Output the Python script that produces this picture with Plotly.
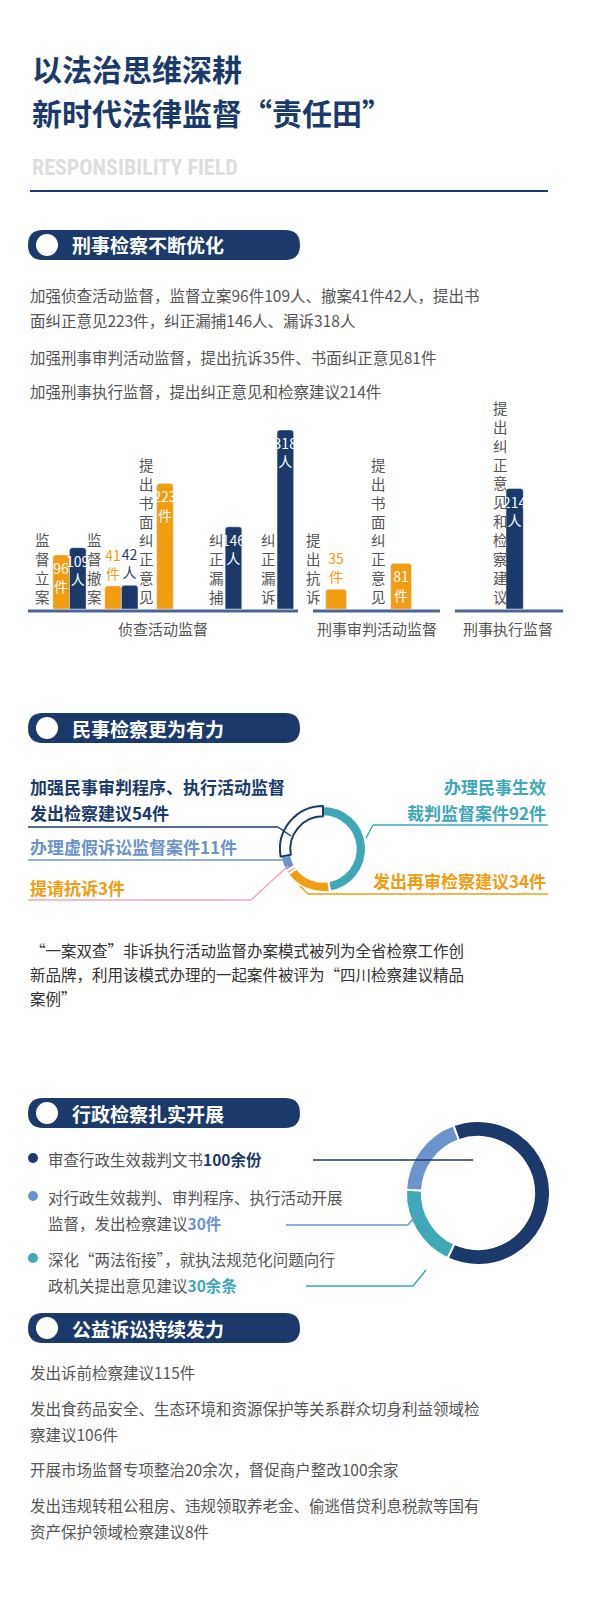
import plotly.graph_objects as go

W, H = 600, 1623
NAVY = "#1b3a6b"
ORANGE = "#f29c11"
TEAL = "#3ea7b8"
LBLUE = "#6b93cc"
PINK = "#f3a6b8"
GRAY = "#555555"
FONT = "Noto Sans CJK SC"

# criminal bar data
g1_cats = ["监督立案", "监督撤案", "提出书面纠正意见", "纠正漏捕", "纠正漏诉"]
g1_jian = [96, 41, 223, None, None]
g1_ren = [109, 42, None, 146, 318]
g2_cats = ["提出抗诉", "提出书面纠正意见"]
g2_jian = [35, 81]
g3_cats = ["提出纠正意见和检察建议"]
g3_jian = [214]
group_names = ["侦查活动监督", "刑事审判活动监督", "刑事执行监督"]

# civil donut
civil_labels = ["办理民事生效裁判监督案件", "发出再审检察建议", "提请抗诉", "办理虚假诉讼监督案件", "发出检察建议"]
civil_values = [92, 34, 3, 11, 54]

# administrative donut
admin_labels = ["审查行政生效裁判文书", "深化“两法衔接”", "对行政生效裁判"]
admin_values = [100, 30, 30]


def py(p):
    return 1 - p / H


def px_(p):
    return p / W


fig = go.Figure()
ann = []
shapes = []


def text(x, y, s, size=16, color=GRAY, anchor="left", bold=False):
    if bold:
        s = "<b>" + s + "</b>"
    ann.append(dict(x=px_(x), y=py(y), xref="paper", yref="paper", text=s, showarrow=False,
                    xanchor=anchor, yanchor="middle", font=dict(size=size, color=color, family=FONT)))


def line(x0, y0, x1, y1, color=NAVY, w=2):
    shapes.append(dict(type="line", xref="paper", yref="paper", x0=px_(x0), y0=py(y0), x1=px_(x1), y1=py(y1),
                       line=dict(color=color, width=w)))


def pill(y, label):
    x0, x1, h = 20, 292, 30
    r = h / 2
    path = (f"M {px_(x0 + r)} {py(y - r)} L {px_(x1 - r)} {py(y - r)} "
            f"Q {px_(x1)} {py(y - r)} {px_(x1)} {py(y)} Q {px_(x1)} {py(y + r)} {px_(x1 - r)} {py(y + r)} "
            f"L {px_(x0 + r)} {py(y + r)} Q {px_(x0)} {py(y + r)} {px_(x0)} {py(y)} "
            f"Q {px_(x0)} {py(y - r)} {px_(x0 + r)} {py(y - r)} Z")
    shapes.append(dict(type="path", xref="paper", yref="paper", path=path, fillcolor=NAVY, line=dict(width=0)))
    shapes.append(dict(type="circle", xref="paper", yref="paper", x0=px_(28), x1=px_(50),
                       y0=py(y + 11), y1=py(y - 11), fillcolor="white", line=dict(width=0)))
    text(62, y, label, size=19, color="white", bold=True)


# header
text(22, 60, "以法治思维深耕", size=30, color=NAVY, bold=True)
text(22, 104, "新时代法律监督“责任田”", size=30, color=NAVY, bold=True)
ann.append(dict(x=px_(22), y=py(160), xref="paper", yref="paper", text="<b>RESPONSIBILITY FIELD</b>",
                showarrow=False, xanchor="left", yanchor="middle",
                font=dict(size=22, color="#dddddd", family="Roboto Condensed, Liberation Sans Narrow, Roboto")))
line(22, 183, 540, 183, NAVY, 2)

# section 1
pill(237, "刑事检察不断优化")
text(20, 287, "加强侦查活动监督，监督立案96件109人、撤案41件42人，提出书", size=15.5)
text(20, 312, "面纠正意见223件，纠正漏捕146人、漏诉318人", size=15.5)
text(20, 349, "加强刑事审判活动监督，提出抗诉35件、书面纠正意见81件", size=15.5)
text(20, 383, "加强刑事执行监督，提出纠正意见和检察建议214件", size=15.5)


def label_of(v, unit):
    return "" if v is None else f"{v}<br>{unit}"


def pos_of(v):
    return "outside" if (v is not None and v < 60) else "inside"


def bars(cats, jian, ren, xa, ya):
    tr = [go.Bar(x=cats, y=jian, marker=dict(color=ORANGE, cornerradius=3), xaxis=xa, yaxis=ya,
                 text=[label_of(v, "件") for v in jian], textposition=[pos_of(v) for v in jian],
                 insidetextanchor="end", textangle=0, cliponaxis=False,
                 insidetextfont=dict(color="white", size=14, family=FONT),
                 outsidetextfont=dict(color=ORANGE, size=14, family=FONT), showlegend=False)]
    if ren is not None:
        tr.append(go.Bar(x=cats, y=ren, marker=dict(color=NAVY, cornerradius=3), xaxis=xa, yaxis=ya,
                         text=[label_of(v, "人") for v in ren], textposition=[pos_of(v) for v in ren],
                         insidetextanchor="end", textangle=0, cliponaxis=False,
                         insidetextfont=dict(color="white", size=14, family=FONT),
                         outsidetextfont=dict(color=NAVY, size=14, family=FONT), showlegend=False))
    return tr


for t in bars(g1_cats, g1_jian, g1_ren, "x", "y"):
    fig.add_trace(t)
for t in bars(g2_cats, g2_jian, [None, None], "x2", "y2"):
    fig.add_trace(t)
for t in bars(g3_cats, [None], g3_jian, "x3", "y3"):
    fig.add_trace(t)

ydom = [py(601), py(422)]
ax = dict(showgrid=False, zeroline=False, showticklabels=False, showline=False, fixedrange=True)
fig.update_layout(
    xaxis=dict(domain=[px_(25), px_(295)], **ax),
    xaxis2=dict(domain=[px_(296), px_(436)], **ax),
    xaxis3=dict(domain=[px_(471), px_(525)], **ax),
    yaxis=dict(domain=ydom, range=[0, 318], anchor="x", **ax),
    yaxis2=dict(domain=ydom, range=[0, 318], anchor="x2", **ax),
    yaxis3=dict(domain=ydom, range=[0, 318], anchor="x3", **ax),
    barmode="group", bargap=0.36, bargroupgap=0.0,
    uniformtext=dict(minsize=14, mode="show"),
)

# vertical category labels
label_specs = [("x", "y", g1_cats, [-27, -27, -27, -9, -9]),
               ("x2", "y2", g2_cats, [-33, -33]),
               ("x3", "y3", g3_cats, [-6])]
for xa, ya, cats, shifts in label_specs:
    for c, s in zip(cats, shifts):
        ann.append(dict(x=c, y=0, xref=xa, yref=ya, text="<br>".join(c), showarrow=False,
                        xanchor="center", yanchor="bottom", xshift=s, align="center",
                        font=dict(size=14.5, color=GRAY, family=FONT)))

line(20, 603, 290, 603, "#4a6493", 3)
line(305, 603, 432, 603, "#4a6493", 3)
line(447, 603, 555, 603, "#4a6493", 3)
text(155, 621, group_names[0], size=15, anchor="center")
text(369, 621, group_names[1], size=15, anchor="center")
text(500, 621, group_names[2], size=15, anchor="center")

# section 2
pill(720, "民事检察更为有力")
cx, cy, r = 315, 841, 43
fig.add_trace(go.Pie(labels=civil_labels, values=civil_values, hole=0.76, sort=False, direction="clockwise",
                     rotation=0, textinfo="none", showlegend=False,
                     marker=dict(colors=[TEAL, ORANGE, PINK, LBLUE, "white"],
                                 line=dict(color=["white", "white", "white", "white", NAVY], width=2)),
                     domain=dict(x=[px_(cx - r), px_(cx + r)], y=[py(cy + r), py(cy - r)])))
text(20, 779, "加强民事审判程序、执行活动监督", size=17, color=NAVY, bold=True)
text(20, 804, "发出检察建议54件", size=17, color=NAVY, bold=True)
line(20, 819, 270, 819, NAVY, 1.5)
line(270, 819, 283, 828, NAVY, 1.5)
text(20, 838, "办理虚假诉讼监督案件11件", size=17, color=LBLUE, bold=True)
line(20, 852, 275, 852, LBLUE, 1.5)
text(20, 879, "提请抗诉3件", size=17, color=ORANGE, bold=True)
line(20, 892, 243, 892, PINK, 1.5)
line(243, 892, 280, 858, PINK, 1.5)
text(540, 779, "办理民事生效", size=17, color=TEAL, bold=True, anchor="right")
text(540, 804, "裁判监督案件92件", size=17, color=TEAL, bold=True, anchor="right")
line(365, 817, 540, 817, TEAL, 1.5)
line(358, 830, 365, 817, TEAL, 1.5)
text(540, 872, "发出再审检察建议34件", size=17, color=ORANGE, bold=True, anchor="right")
line(300, 886, 540, 886, ORANGE, 1.5)
line(300, 886, 292, 878, ORANGE, 1.5)

text(20, 942, "“一案双查”非诉执行活动监督办案模式被列为全省检察工作创", size=15.5, color="#333333")
text(20, 966, "新品牌，利用该模式办理的一起案件被评为“四川检察建议精品", size=15.5, color="#333333")
text(20, 990, "案例”", size=15.5, color="#333333")

# section 3
pill(1105, "行政检察扎实开展")
cx2, cy2, r2 = 470, 1185, 72
fig.add_trace(go.Pie(labels=admin_labels, values=admin_values, hole=0.78, sort=False, direction="clockwise",
                     rotation=-20, textinfo="none", showlegend=False,
                     marker=dict(colors=[NAVY, TEAL, LBLUE], line=dict(color="white", width=2)),
                     domain=dict(x=[px_(cx2 - r2), px_(cx2 + r2)], y=[py(cy2 + r2), py(cy2 - r2)])))
for yy, c in [(1150, NAVY), (1188, LBLUE), (1250, TEAL)]:
    shapes.append(dict(type="circle", xref="paper", yref="paper", x0=px_(20), x1=px_(30),
                       y0=py(yy + 5), y1=py(yy - 5), fillcolor=c, line=dict(width=0)))
text(38, 1151, f"审查行政生效裁判文书<b><span style='color:{NAVY}'>100余份</span></b>", size=15.5)
line(305, 1152, 465, 1152, NAVY, 1.5)
text(38, 1189, "对行政生效裁判、审判程序、执行活动开展", size=15.5)
text(38, 1215, f"监督，发出检察建议<b><span style='color:{LBLUE}'>30件</span></b>", size=15.5)
line(278, 1217, 400, 1217, LBLUE, 1.5)
line(400, 1217, 412, 1202, LBLUE, 1.5)
text(38, 1251, "深化“两法衔接”，就执法规范化问题向行", size=15.5)
text(38, 1277, f"政机关提出意见建议<b><span style='color:{TEAL}'>30余条</span></b>", size=15.5)
line(298, 1278, 405, 1278, TEAL, 1.5)
line(405, 1278, 418, 1262, TEAL, 1.5)

# section 4
pill(1320, "公益诉讼持续发力")
text(20, 1364, "发出诉前检察建议115件", size=15.5)
text(20, 1400, "发出食药品安全、生态环境和资源保护等关系群众切身利益领域检", size=15.5)
text(20, 1426, "察建议106件", size=15.5)
text(20, 1461, "开展市场监督专项整治20余次，督促商户整改100余家", size=15.5)
text(20, 1497, "发出违规转租公租房、违规领取养老金、偷逃借贷利息税款等国有", size=15.5)
text(20, 1523, "资产保护领域检察建议8件", size=15.5)

fig.update_layout(width=W, height=H, margin=dict(l=0, r=0, t=0, b=0), paper_bgcolor="white",
                  plot_bgcolor="white", annotations=ann, shapes=shapes, font=dict(family=FONT))
fig.write_html("out.html")
